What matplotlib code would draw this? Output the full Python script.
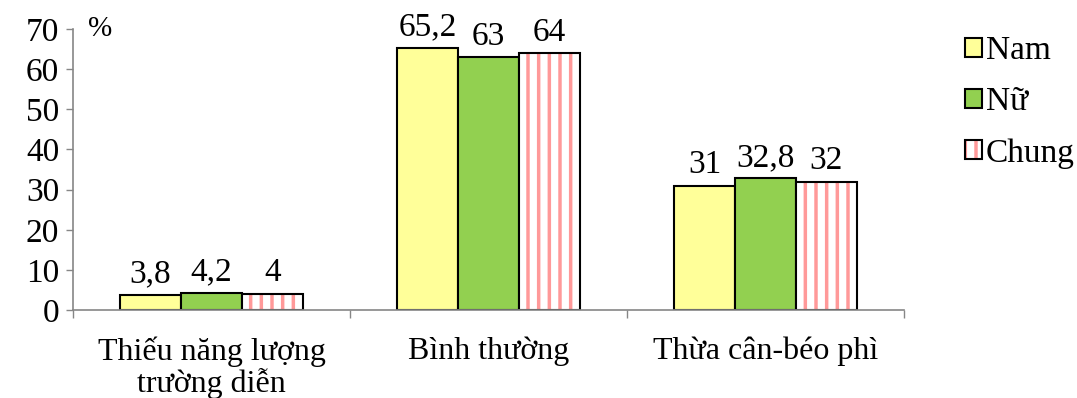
import matplotlib
matplotlib.use('Agg')
import matplotlib.pyplot as plt
from matplotlib.patches import Patch
from matplotlib.legend_handler import HandlerTuple
import numpy as np

# data
categories = ['Thiếu năng lượng\ntrường diễn', 'Bình thường', 'Thừa cân-béo phì']
series_names = ['Nam', 'Nữ', 'Chung']
nam = [3.8, 65.2, 31]
nu = [4.2, 63, 32.8]
chung = [4, 64, 32]
yticks = [0, 10, 20, 30, 40, 50, 60, 70]

# render at dpi 64 so the '|' hatch spacing matches; S scales sizes back
DPI = 64
S = 100.0 / DPI

plt.rcParams['font.family'] = ['Liberation Serif', 'DejaVu Serif']
plt.rcParams['hatch.linewidth'] = 2.5 * S

fig = plt.figure(figsize=(1077 / DPI, 398 / DPI), dpi=DPI)
ax = fig.add_axes([0.0678, 0.221, 0.7715, 0.706])

x = np.arange(len(categories))
w = 0.22
lw = 1.5 * S
b1 = ax.bar(x - w, nam, w, color='#FFFF99', edgecolor='black', linewidth=lw)
b2 = ax.bar(x, nu, w, color='#92D050', edgecolor='black', linewidth=lw)
# striped bars: pink hatch first, black outline on top
ax.bar(x + w, chung, w, color='white', edgecolor='#FF9999', hatch='|', linewidth=0)
b3 = ax.bar(x + w, chung, w, fill=False, edgecolor='black', linewidth=lw)

def fmt(v):
    s = ('%g' % v).replace('.', ',')
    return s

for bars, vals in [(b1, nam), (b2, nu), (b3, chung)]:
    for r, v in zip(bars, vals):
        ax.annotate(fmt(v), (r.get_x() + r.get_width() / 2, v),
                    xytext=(0, 4 * S), textcoords='offset points',
                    ha='center', va='bottom', fontsize=24 * S)

ax.set_xlim(-0.5, len(categories) - 0.5)
ax.set_ylim(0, 70)
ax.set_yticks(yticks)
ax.set_yticklabels([str(t) for t in yticks], fontsize=24 * S)
ax.set_xticks(x)
ax.set_xticklabels(categories, fontsize=23 * S, linespacing=1.05)
ax.tick_params(axis='x', which='major', length=0, pad=19 * S)
ax.set_xticks(np.arange(-0.5, len(categories)), minor=True)
ax.tick_params(axis='x', which='minor', length=6 * S, width=1 * S, color='#868686', direction='out')
ax.tick_params(axis='y', length=5 * S, width=1 * S, color='#868686', pad=5 * S)

for s in ['top', 'right']:
    ax.spines[s].set_visible(False)
for s in ['left', 'bottom']:
    ax.spines[s].set_color('#868686')
    ax.spines[s].set_linewidth(1.2 * S)

ax.text(0.018, 1.0, '%', transform=ax.transAxes, fontsize=21 * S, va='center', ha='left')

h_nam = Patch(facecolor='#FFFF99', edgecolor='black', linewidth=lw)
h_nu = Patch(facecolor='#92D050', edgecolor='black', linewidth=lw)
h_ch = (Patch(facecolor='white', edgecolor='#FF9999', hatch='|', linewidth=0),
        Patch(fill=False, edgecolor='black', linewidth=lw))
leg = fig.legend([h_nam, h_nu, h_ch], series_names, loc='upper left',
                 bbox_to_anchor=(0.896, 0.91), frameon=False, fontsize=24 * S,
                 handlelength=0.5, handleheight=0.5, handletextpad=0.12,
                 labelspacing=0.62, borderaxespad=0, borderpad=0,
                 handler_map={tuple: HandlerTuple(ndivide=1, pad=0)})

fig.savefig('out.png', dpi=DPI)
